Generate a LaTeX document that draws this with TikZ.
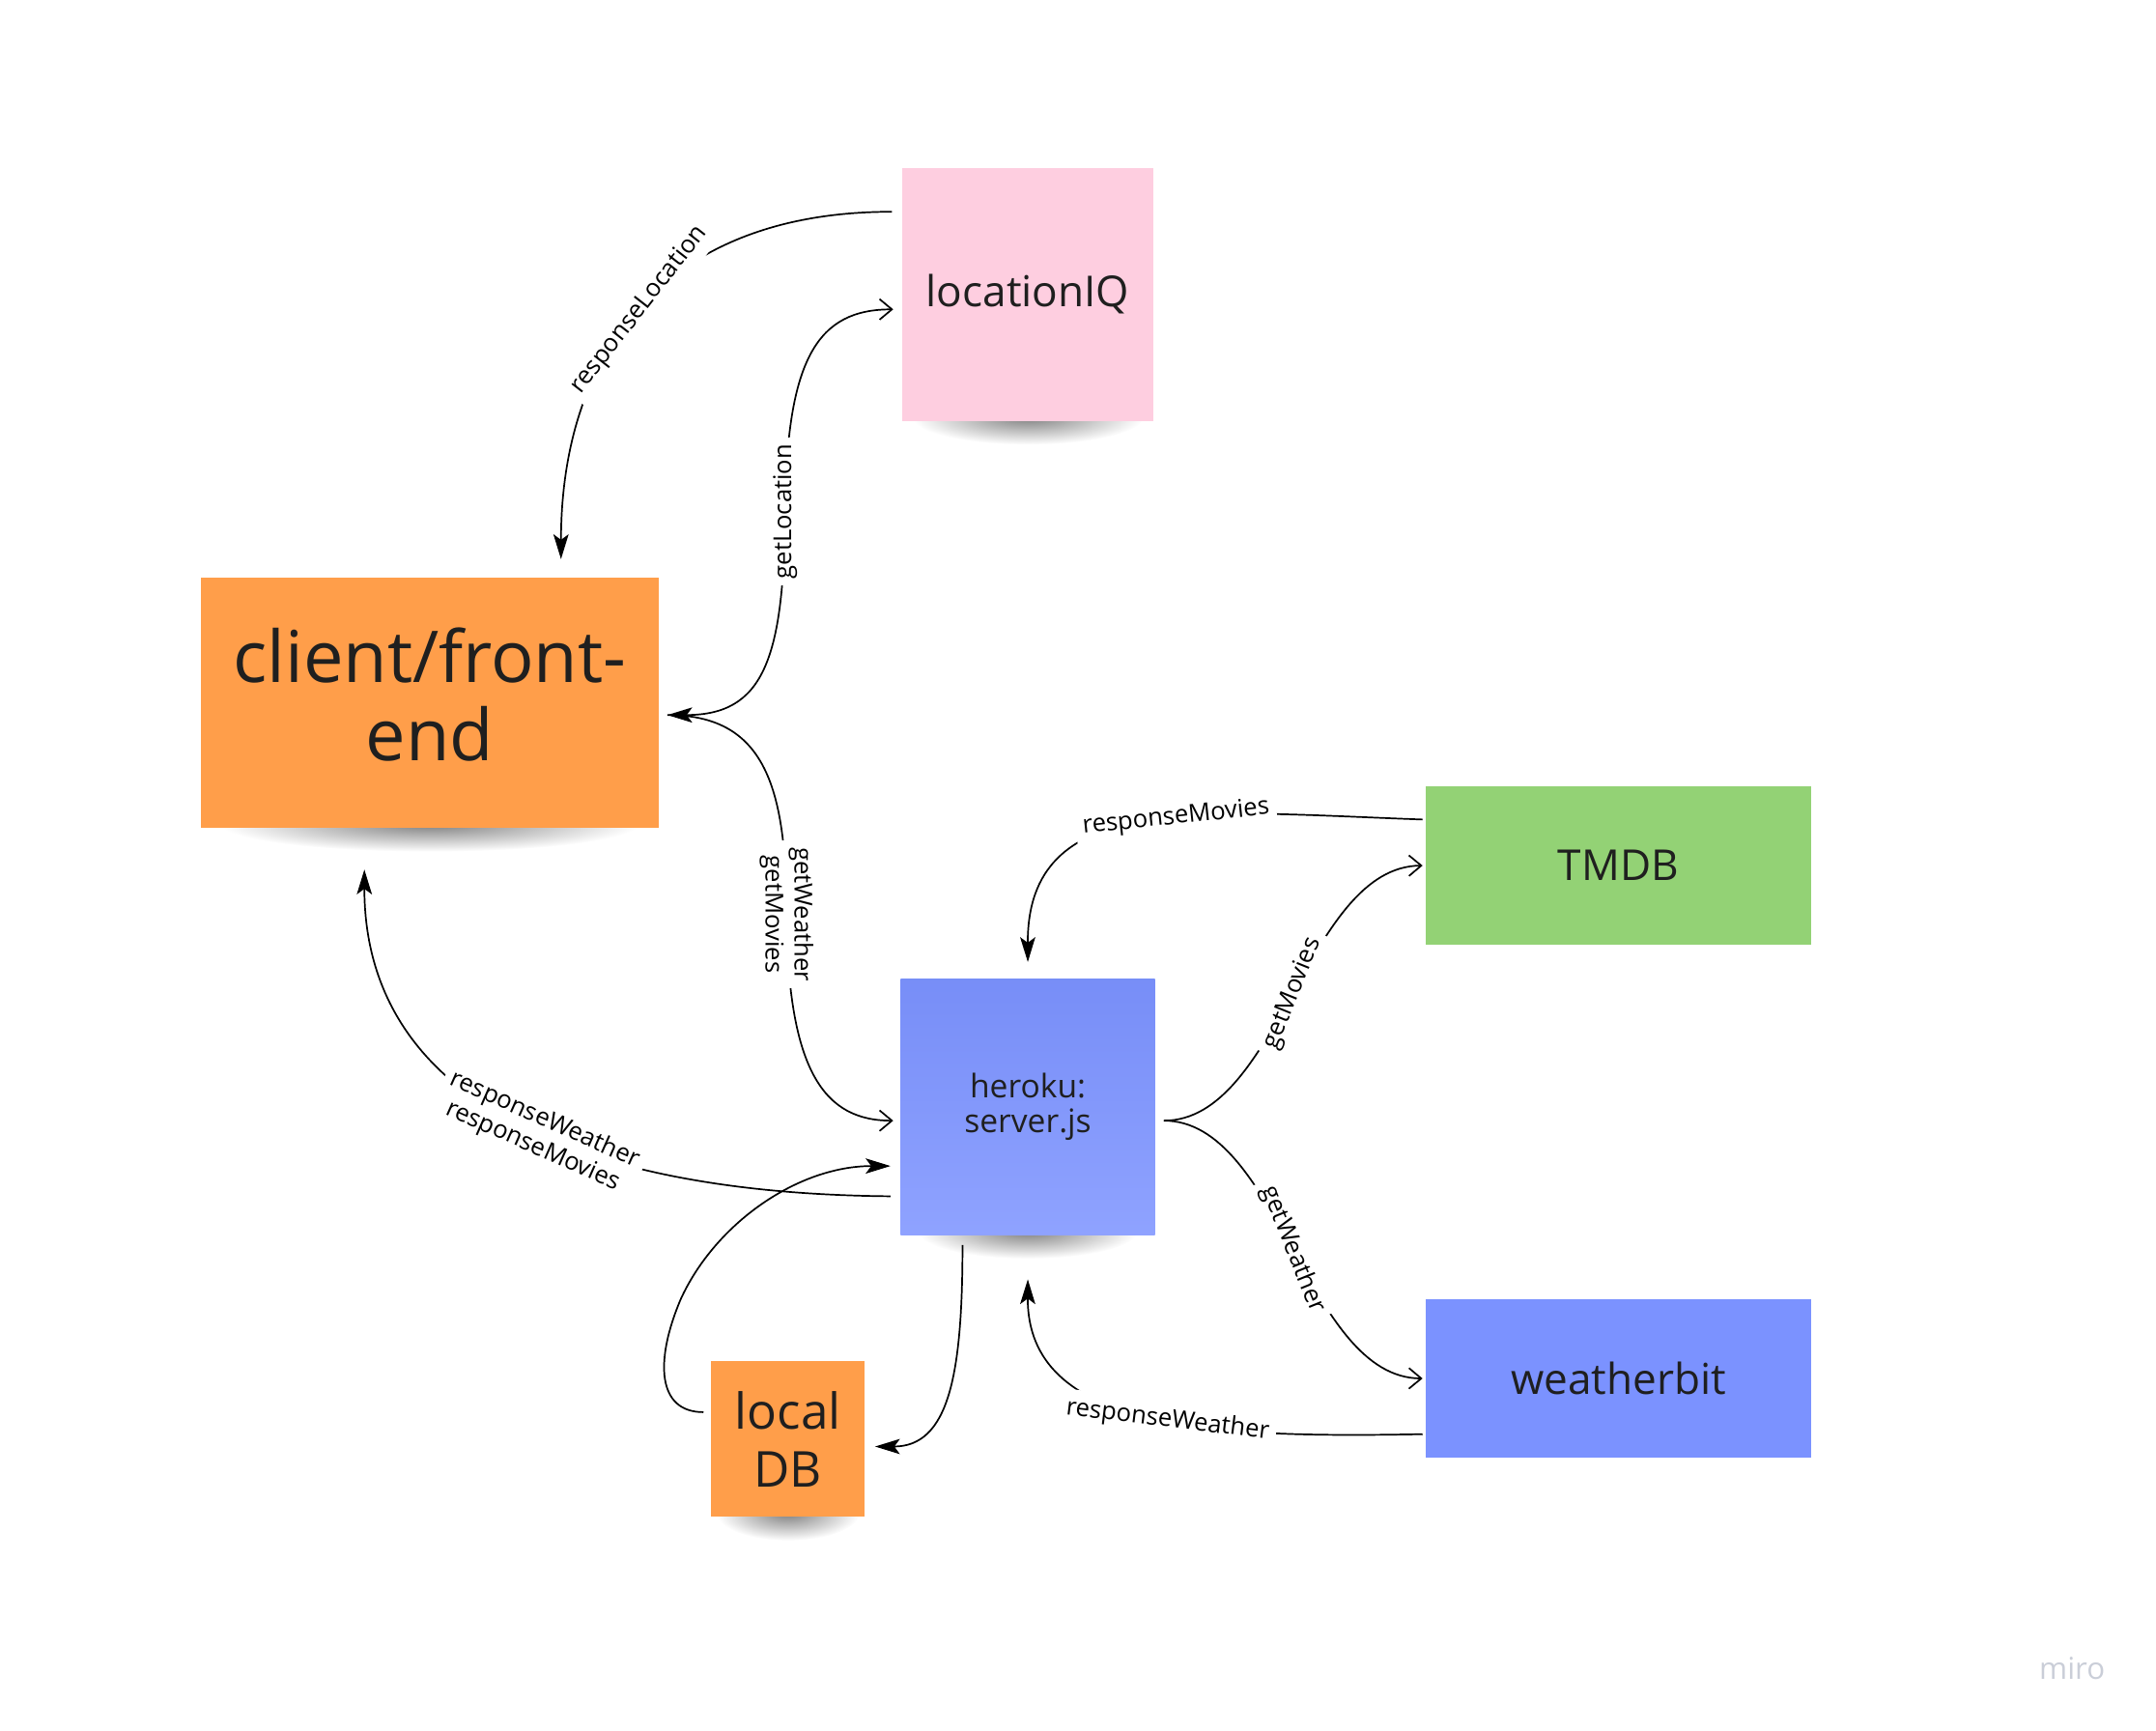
\documentclass[tikz,border=0pt]{standalone}
\usepackage{fontspec}
\setmainfont{Open Sans}
\usepackage{tikz}
\usetikzlibrary{arrows.meta, backgrounds}

\definecolor{notepink}{HTML}{FECEE0}
\definecolor{noteorange}{HTML}{FF9E4A}
\definecolor{noteblue}{HTML}{7B92FF}
\definecolor{notegreen}{HTML}{93D275}
\definecolor{mirogray}{HTML}{CACED8}

\tikzstyle{sticky} = [rectangle, inner sep = 0pt, align = center, text = black!88]
\tikzstyle{link} = [line width = 0.6pt]
\tikzstyle{tag} = [fill = white, inner sep = 2.5pt, align = center, font = \fontsize{9}{10.5}\selectfont]
\tikzset{solidtip/.tip = {Stealth[length = 9pt, width = 5.5pt, inset = 2pt]},
         opentip/.tip = {Straight Barb[length = 4.5pt, width = 7.5pt]}}

\begin{document}
\begin{tikzpicture}[x = 0.5pt, y = -0.5pt]
        \useasboundingbox (0, 0) rectangle (1568, 1258.2);

        \node [sticky, fill = notepink, minimum width = 91.5pt, minimum height = 92pt,
               font = \fontsize{15.5}{18}\selectfont] (locIQ) at (747.5, 214) {locationIQ};
        \node [sticky, fill = noteorange, minimum width = 166.5pt, minimum height = 91pt,
               font = \fontsize{26}{28.5}\selectfont] (client) at (312.5, 511) {client/front-\\end\vphantom{g}};
        \node [sticky, top color = noteblue!97!black, bottom color = noteblue!85!white,
               minimum width = 92.5pt, minimum height = 93pt,
               font = \fontsize{11.8}{12.5}\selectfont] (heroku) at (747.5, 805) {heroku:\\server.js};
        \node [sticky, fill = notegreen, minimum width = 140pt, minimum height = 57.5pt,
               font = \fontsize{15.5}{18}\selectfont] (tmdb) at (1177, 629.5) {TMDB};
        \node [sticky, fill = noteblue, minimum width = 140pt, minimum height = 57.5pt,
               font = \fontsize{15.5}{18}\selectfont] (wbit) at (1177, 1002.5) {weatherbit};
        \node [sticky, fill = noteorange, minimum width = 56pt, minimum height = 56.5pt,
               font = \fontsize{18}{21}\selectfont] (localdb) at (573, 1046.5) {local\\DB};
        \node [text = mirogray, font = \fontsize{11}{13}\selectfont] (miro) at (1507, 1213) {miro};

        \begin{scope}[on background layer]
            \foreach \n/\r in {locIQ/42pt, client/76pt, heroku/40pt, localdb/26pt}
            {
                \shade [inner color = black!50, outer color = white] ([yshift = 1.5pt]\n.south) ellipse [x radius = \r, y radius = 10pt];
            }
        \end{scope}

        \draw [link, -solidtip] ([xshift = -3.5pt, yshift = 30pt]locIQ.west) .. controls (480, 154) and (408, 260) ..
            ([xshift = 47.75pt, yshift = 6.5pt]client.north) node [tag, pos = 0.5, rotate = 52] {responseLocation};
        \draw [link, solidtip-opentip] ([xshift = 3pt, yshift = -4.5pt]client.east) .. controls (555, 520) and (570, 480) ..
            (571, 372) node [tag, rotate = 90] {getLocation} .. controls (572, 260) and (595, 225) ..
            ([xshift = -3pt, yshift = -5.5pt]locIQ.west);
        \draw [link, -opentip] ([xshift = 3pt, yshift = -4.5pt]client.east) .. controls (555, 520) and (572, 570) ..
            (572, 665) node [tag, rotate = -90] {getWeather\\getMovies} .. controls (573, 780) and (600, 815) ..
            ([xshift = -2.5pt, yshift = -5pt]heroku.west);
        \draw [link, -solidtip] ([xshift = -3.5pt, yshift = -32.5pt]heroku.west) .. controls (420, 868) and (265, 800) ..
            ([xshift = -23.75pt, yshift = -15pt]client.south) node [tag, pos = 0.45, rotate = -24] {responseWeather\\responseMovies};

        \draw [link, -solidtip] ([xshift = -1pt, yshift = 16.75pt]tmdb.west) .. controls (870, 590) and (747, 575) ..
            ([yshift = 6pt]heroku.north) node [tag, pos = 0.42, rotate = 6] {responseMovies};
        \draw [link, -opentip] ([xshift = 3pt, yshift = -5pt]heroku.east) .. controls (930, 815) and (950, 630) ..
            ([xshift = -1pt]tmdb.west) node [tag, pos = 0.5, rotate = 68] {getMovies};
        \draw [link, -opentip] ([xshift = 3pt, yshift = -5pt]heroku.east) .. controls (930, 815) and (950, 1002) ..
            ([xshift = -1pt]wbit.west) node [tag, pos = 0.5, rotate = -68] {getWeather};
        \draw [link, -solidtip] ([xshift = -1pt, yshift = -20.25pt]wbit.west) .. controls (880, 1046) and (747, 1040) ..
            ([yshift = -16pt]heroku.south) node [tag, pos = 0.45, rotate = -7] {responseWeather};

        \draw [link, -solidtip] ([xshift = -23.75pt, yshift = -3.5pt]heroku.south) .. controls (700, 1000) and (690, 1052) ..
            ([xshift = 3.5pt, yshift = -2.75pt]localdb.east);
        \draw [link, -solidtip] ([xshift = -2.5pt, yshift = 9.75pt]localdb.west) .. controls (478, 1027) and (476, 990) ..
            (495, 945) .. controls (520, 890) and (580, 848) .. ([xshift = -3.5pt, yshift = -21.5pt]heroku.west);
    \end{tikzpicture}
\end{document}
